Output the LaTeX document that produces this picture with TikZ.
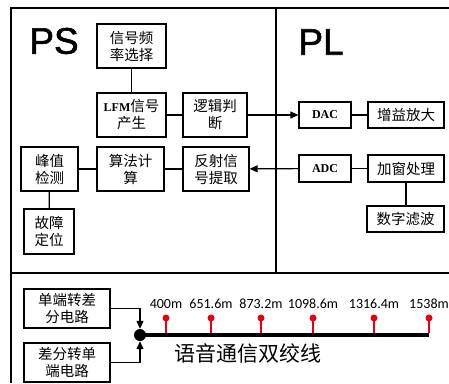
\documentclass[tikz,border=0pt]{standalone}
\usepackage{fontspec}
\usetikzlibrary{arrows.meta}
\newfontfamily\cjk{Noto Sans CJK SC}
\newfontfamily\lsans[FakeBold=1.5]{Liberation Sans}
\newfontfamily\lserif{Liberation Serif}
\newfontfamily\carl{Carlito}
\definecolor{pinred}{RGB}{230,0,18}
\tikzset{
  blk/.style={draw, line width=1.2pt, inner sep=0pt, align=center, font=\cjk\fontsize{14.5}{17}\selectfont},
  lnk/.style={line width=1.2pt},
  arr/.style={line width=1.2pt, -{Triangle[length=8pt,width=7pt]}},
  frame/.style={line width=1.4pt},
  pin/.style={pinred, line width=1.1pt},
  dist/.style={font=\carl\fontsize{14}{15}\selectfont, inner sep=0pt},
  big/.style={font=\lsans\fontsize{37}{40}\selectfont, inner sep=0pt},
}
\begin{document}
\begin{tikzpicture}[x=1pt,y=-1pt]
\useasboundingbox (0,0) rectangle (449,383);
\fill[white] (0,0) rectangle (449,383);
% frame
\draw[frame] (449,8) -- (11,8) -- (11,383);
\draw[frame] (276,8) -- (276,273);
\draw[frame] (11,273) -- (449,273);
\node[big] (ps) at (54,41) {PS};
\node[big] (pl) at (321,42) {PL};
% PS boxes
\node[blk, minimum width=69, minimum height=44] (sel) at (131.5,46) {信号频\\率选择};
\node[blk, minimum width=69, minimum height=44] (lfm) at (131.5,115) {{\lserif\bfseries\fontsize{12}{14}\selectfont LFM}信号\\产生};
\node[blk, minimum width=64, minimum height=44] (logic) at (215,115) {逻辑判\\断};
\node[blk, minimum width=57, minimum height=44] (peak) at (49.5,169) {峰值\\检测};
\node[blk, minimum width=67, minimum height=44] (algo) at (130.5,169) {算法计\\算};
\node[blk, minimum width=66, minimum height=44] (refl) at (216,169) {反射信\\号提取};
\node[blk, minimum width=50, minimum height=45] (fault) at (49,231.5) {故障\\定位};
% PL boxes
\node[blk, minimum width=52, minimum height=26, font=\lserif\bfseries\fontsize{12}{14}\selectfont] (dac) at (325,115) {DAC};
\node[blk, minimum width=76, minimum height=26] (gain) at (406,115) {增益放大};
\node[blk, minimum width=52, minimum height=27, font=\lserif\bfseries\fontsize{12}{14}\selectfont] (adc) at (325,168.5) {ADC};
\node[blk, minimum width=76, minimum height=27] (win) at (406,168.5) {加窗处理};
\node[blk, minimum width=77, minimum height=26] (filt) at (405.5,219) {数字滤波};
% connectors
\draw[lnk] (sel) -- (lfm);
\draw[lnk] (lfm) -- (logic);
\draw[arr] (logic) -- (dac);
\draw[arr] (adc) -- (refl);
\draw[lnk] (refl) -- (algo);
\draw[lnk] (algo) -- (peak);
\draw[lnk] (peak) -- (fault);
\draw[lnk] (dac) -- (gain);
\draw[lnk] (adc) -- (win);
\draw[lnk] (win.south) -- (win.south |- filt.north);
% bottom
\node[blk, minimum width=86, minimum height=39] (se2d) at (67,308.5) {单端转差\\分电路};
\node[blk, minimum width=86, minimum height=39] (d2se) at (67,362.5) {差分转单\\端电路};
\node[circle, fill=black, minimum size=12, inner sep=0pt] (dot) at (140,335) {};
\coordinate (lineend) at (429,335);
\draw[line width=4pt] (dot.center) -- (lineend);
\draw[arr] (se2d.east) -| (dot.north);
\draw[arr] (d2se.east) -| (dot.south);
\foreach \x/\lab/\n in {166/400m/a,211/651.6m/b,261/873.2m/c,313/1098.6m/d,374/1316.4m/e,429/1538m/f}{
  \coordinate (base\n) at (\x,333);
  \node[circle, fill=pinred, minimum size=7, inner sep=0pt] (pin\n) at (\x,318) {};
  \draw[pin] (pin\n.center) -- (base\n);
  \node[dist] (lab\n) at (\x,304) {\lab};
}
\node[font=\cjk\fontsize{21}{24}\selectfont, inner sep=0pt] (twist) at (247.5,353) {语音通信双绞线};
\end{tikzpicture}
\end{document}
